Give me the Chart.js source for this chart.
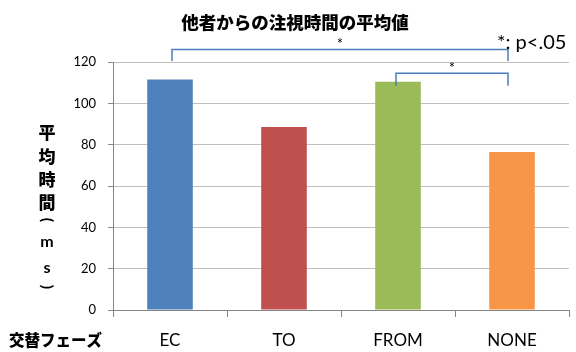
<!DOCTYPE html>
<html>
<head>
<meta charset="utf-8">
<script src="https://cdn.jsdelivr.net/npm/chart.js@4"></script>
<style>
  html, body { margin: 0; padding: 0; background: #fff; }
</style>
</head>
<body>
<canvas id="gazeChart" width="576" height="352"></canvas>
<script>
const categories = ['EC', 'TO', 'FROM', 'NONE'];
const gazeTimes = [111.5, 88.5, 110.5, 76.5];
const barColors = ['#4f81bd', '#c0504d', '#9bbb59', '#f79646'];
const yTicks = [0, 20, 40, 60, 80, 100, 120];
const yTitleChars = ['平', '均', '時', '間', '(', 'm', 's', ')'];

const latin = 'Lato, "Liberation Sans", sans-serif';
const jp = '"Noto Sans CJK JP", sans-serif';

// title, brackets and the vertical axis label
const overlay = {
  id: 'overlay',
  afterDraw(chart) {
    const c = chart.ctx;
    const x = chart.scales.x;
    const y = chart.scales.y;
    c.save();

    c.fillStyle = '#000';
    c.textAlign = 'center';
    c.textBaseline = 'middle';
    c.font = '900 17.5px ' + jp;
    c.fillText('他者からの注視時間の平均値', 295, 22);

    // significance brackets
    c.strokeStyle = '#4a7ebb';
    c.lineWidth = 1.5;
    const ec = x.getPixelForValue(0) + 2;
    const from = x.getPixelForValue(2) - 2;
    const none = x.getPixelForValue(3) - 4;
    const top1 = y.getPixelForValue(126);
    const top2 = y.getPixelForValue(114.5);
    c.beginPath();
    c.moveTo(ec, y.getPixelForValue(120.5));
    c.lineTo(ec, top1);
    c.lineTo(none, top1);
    c.lineTo(none, y.getPixelForValue(120.5));
    c.moveTo(from, y.getPixelForValue(108.5));
    c.lineTo(from, top2);
    c.lineTo(none, top2);
    c.lineTo(none, y.getPixelForValue(108.5));
    c.stroke();

    c.font = '15px ' + latin;
    c.fillText('*', (ec + none) / 2, top1 - 5);
    c.fillText('*', (from + none) / 2, top2 - 5);

    c.textAlign = 'left';
    c.font = '20px ' + latin;
    c.fillText('*: p<.05', 497, 43);

    // x axis title
    c.font = '900 15.5px ' + jp;
    c.fillText('交替フェーズ', 9, 340);

    // stacked y axis title
    c.textAlign = 'center';
    const ys = [133, 157, 180, 203, 220, 242, 268, 287];
    yTitleChars.forEach((ch, i) => {
      c.save();
      c.translate(47, ys[i]);
      if (ch === '(' || ch === ')') {
        c.rotate(Math.PI / 2);
        c.font = 'bold 16px ' + latin;
      } else if (ch === 'm' || ch === 's') {
        c.font = 'bold 16px ' + latin;
      } else {
        c.font = '900 17px ' + jp;
      }
      c.fillText(ch, 0, 0);
      c.restore();
    });
    c.restore();
  }
};

new Chart(document.getElementById('gazeChart'), {
  type: 'bar',
  data: {
    labels: categories,
    datasets: [{
      data: gazeTimes,
      backgroundColor: barColors,
      borderWidth: 0,
      barPercentage: 0.4,
      categoryPercentage: 1
    }]
  },
  options: {
    responsive: false,
    animation: false,
    layout: { padding: { top: 62, right: 7, left: 0, bottom: 0 } },
    plugins: {
      legend: { display: false },
      tooltip: { enabled: false }
    },
    scales: {
      x: {
        afterFit(scale) { scale.height = 42; },
        grid: {
          drawOnChartArea: false,
          drawTicks: true,
          tickLength: 7,
          color: '#868686'
        },
        border: { color: '#868686', width: 1 },
        ticks: {
          color: '#000',
          padding: 13,
          font: { family: latin, size: 17 }
        }
      },
      y: {
        min: 0,
        max: 120,
        afterFit(scale) { scale.width = 113; },
        afterBuildTicks(scale) { scale.ticks = yTicks.map(v => ({ value: v })); },
        grid: {
          color: '#c0c0c0',
          tickLength: 5,
          tickColor: '#868686'
        },
        border: { color: '#868686', width: 1 },
        ticks: {
          color: '#000',
          padding: 12,
          font: { family: latin, size: 13 }
        }
      }
    }
  },
  plugins: [overlay]
});
</script>
</body>
</html>
